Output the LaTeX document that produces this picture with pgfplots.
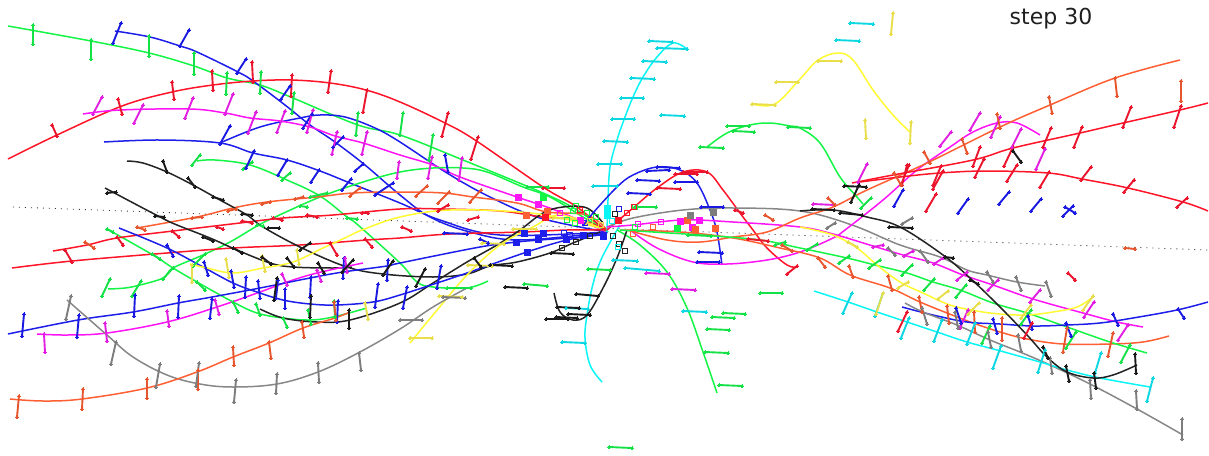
\documentclass[border=0pt]{standalone}
\usepackage{pgfplots}
\pgfplotsset{compat=1.18}
\usepackage{fontspec}
\setmainfont{DejaVu Sans}
\definecolor{cR}{RGB}{255,20,40}
\definecolor{cG}{RGB}{20,245,70}
\definecolor{cB}{RGB}{30,30,235}
\definecolor{cM}{RGB}{255,20,245}
\definecolor{cK}{RGB}{35,35,35}
\definecolor{cA}{RGB}{135,135,135}
\definecolor{cO}{RGB}{255,95,50}
\definecolor{cC}{RGB}{10,245,245}
\definecolor{cY}{RGB}{255,250,50}
\definecolor{tR}{RGB}{235,20,45}
\definecolor{tG}{RGB}{20,225,70}
\definecolor{tB}{RGB}{25,25,225}
\definecolor{tM}{RGB}{225,30,225}
\definecolor{tK}{RGB}{25,25,25}
\definecolor{tA}{RGB}{125,125,125}
\definecolor{tO}{RGB}{230,85,45}
\definecolor{tC}{RGB}{10,215,225}
\definecolor{tY}{RGB}{232,222,75}
\pgfplotsset{
 crv/.style={draw=#1,line width=1.5pt,smooth,tension=0.6,no markers},
 tk/.style={draw=#1,line width=1.9pt,mark=*,mark size=1.5pt,mark options={fill=#1,draw=#1,line width=0pt},unbounded coords=jump},
 sqf/.style={only marks,mark=square*,mark size=3pt,mark options={fill=#1,draw=#1,line width=0.2pt}},
 sqo/.style={only marks,mark=square,mark size=2.6pt,mark options={draw=#1,line width=1.4pt}},
}
\begin{document}
\begin{tikzpicture}
\begin{axis}[scale only axis,width=1209pt,height=455pt,xmin=0,xmax=1209,ymin=0,ymax=455,y dir=reverse,axis line style={draw=none},xtick=\empty,ytick=\empty,clip=true]
% dotted reference line
\addplot[draw=black!80,line width=0.8pt,dash pattern=on 1pt off 5pt] coordinates {(13,207)(1208,250)};
% curves
\addplot[crv=cG] coordinates {(8,26)(91,41)(149,53)(194,66)(227,78)(260,85)(293,98)(358,125)(400,135)(463,160)(543,193)(577,210)(608,232)};
\addplot[crv=cB] coordinates {(115,31)(150,37)(180,46)(197,52)(238,72)(253,81)(285,105)(310,125)(335,142)(365,165)(400,195)(430,217)(470,232)(520,240)(607,232)};
\addplot[crv=cB] coordinates {(104,142)(160,140)(220,143)(253,153)(287,160)(320,171)(350,183)(400,203)(440,220)(500,235)(607,232)};
\addplot[crv=cB] coordinates {(220,143)(260,127)(300,118)(320,115)(345,117)(375,128)(400,142)(447,173)(490,197)(540,218)(607,232)};
\addplot[crv=cR] coordinates {(8,159)(57,135)(122,106)(172,92)(213,85)(253,81)(291,80)(330,83)(366,90)(400,102)(445,123)(475,140)(543,187)(577,207)(607,232)};
\addplot[crv=cM] coordinates {(83,114)(120,110)(190,109)(225,113)(250,118)(280,121)(310,127)(335,136)(363,143)(400,155)(433,165)(460,177)(517,197)(538,204)(560,212)(607,232)};
\addplot[crv=cG] coordinates {(197,161)(215,160)(250,165)(287,180)(320,196)(347,217)(358,225)(400,263)(417,282)(433,287)(467,288)(488,281)};
\addplot[crv=cG] coordinates {(108,289)(125,288)(140,285)(163,278)(173,268)(203,255)(230,242)(257,226)(273,218)(320,197)(363,182)(400,172)(433,168)(463,168)(487,172)(523,187)(550,197)(583,217)(608,232)};
\addplot[crv=cG] coordinates {(107,229)(153,255)(173,268)(197,282)(233,302)(257,313)(283,318)(310,320)(333,317)(367,308)};
\addplot[crv=cO] coordinates {(137,228)(197,217)(233,208)(267,202)(317,197)(353,193)(400,192)(443,193)(473,197)(517,203)(547,212)(587,215)(607,230)};
\addplot[crv=cR] coordinates {(12,268)(72,261)(167,253)(233,248)(300,245)(367,240)(400,238)(450,234)(523,232)(567,230)(607,230)};
\addplot[crv=cR] coordinates {(53,251)(87,245)(117,238)(173,231)(240,223)(283,218)(333,215)(400,209)(443,209)(500,211)(543,217)(580,220)(607,230)};
\addplot[crv=cK] coordinates {(127,161)(143,163)(167,172)(193,185)(220,200)(247,215)(263,227)(302,248)(347,267)(383,274)(433,277)(467,274)(490,266)(517,262)(550,253)(573,243)(600,232)};
\addplot[crv=cK] coordinates {(105,188)(160,217)(177,225)(210,238)(237,250)(270,263)(293,267)(333,268)(352,267)};
\addplot[crv=cK] coordinates {(260,309)(283,318)(317,322)(350,320)(400,303)(433,283)(467,262)(497,245)(520,230)(543,213)(563,207)(587,208)(603,223)};
\addplot[crv=cM] coordinates {(37,334)(67,335)(107,333)(167,322)(217,307)(260,292)(287,282)(317,273)(363,263)};
\addplot[crv=cB] coordinates {(8,334)(78,320)(133,312)(178,303)(212,297)(260,288)(310,278)(343,272)(387,266)(400,263)(480,247)(517,242)(540,240)(567,238)(600,235)(607,232)};
\addplot[crv=cB] coordinates {(119,228)(167,248)(203,267)(233,283)(257,292)(283,300)(310,304)(337,305)(373,302)(400,295)(437,283)(467,273)(527,252)(567,240)(607,233)};
\addplot[crv=cY] coordinates {(190,264)(207,268)(233,273)(263,268)(293,262)(323,248)(347,237)(362,230)(400,217)(450,210)(520,212)(560,218)(600,228)};
\addplot[crv=cY] coordinates {(410,343)(433,315)(467,275)(500,245)(533,227)(560,215)(600,228)};
\addplot[crv=cY] coordinates {(752,104)(775,104)(800,79)(818,60)(838,53)(853,60)(873,90)(893,115)(910,132)};
\addplot[crv=cA] coordinates {(67,300)(107,335)(133,357)(167,375)(200,384)(233,387)(277,384)(318,372)(358,353)(400,329)(433,307)(467,288)};
\addplot[crv=cO] coordinates {(10,399)(43,401)(82,399)(147,388)(197,372)(233,357)(269,343)(303,328)(335,318)(350,312)};
\addplot[crv=cC] coordinates {(602,382)(590,365)(585,338)(587,315)(592,288)(600,262)(613,237)(620,225)};
\addplot[crv=cC] coordinates {(607,232)(608,200)(610,167)(617,140)(625,117)(633,97)(643,77)(657,57)(673,43)(687,49)};
\addplot[crv=cG] coordinates {(717,393)(703,352)(687,308)(667,272)(640,245)(617,230)};
\addplot[crv=cK] coordinates {(554,293)(560,312)(573,320)(587,315)(603,288)(617,258)(627,230)};
\addplot[crv=cB] coordinates {(583,226)(593,213)(617,187)(633,175)(657,167)(680,170)(697,183)(710,210)(717,232)(722,265)};
\addplot[crv=cR] coordinates {(607,230)(633,208)(657,188)(683,172)(707,172)(723,190)(740,213)(753,230)(767,248)(787,265)(797,267)};
\addplot[crv=cA] coordinates {(607,227)(633,218)(683,210)(733,208)(800,211)(852,225)(900,245)(940,257)(967,270)(987,275)(1017,282)(1045,286)};
\addplot[crv=cM] coordinates {(607,227)(633,225)(683,220)(733,222)(800,227)(833,234)(873,246)(903,255)(933,263)(963,275)(993,285)(1033,299)(1083,313)(1117,322)(1143,327)};
\addplot[crv=cM] coordinates {(630,230)(657,248)(693,262)(727,264)(767,260)(800,252)(833,238)(845,230)(883,200)(917,170)(950,147)(973,132)(997,123)(1017,123)(1040,135)};
\addplot[crv=cO] coordinates {(627,230)(667,240)(700,242)(733,237)(767,232)(800,218)(833,207)(867,190)(927,163)(1000,127)(1050,105)(1115,78)(1180,60)};
\addplot[crv=cR] coordinates {(852,183)(893,175)(973,160)(1013,148)(1080,133)(1123,123)(1180,110)(1208,103)};
\addplot[crv=cR] coordinates {(860,182)(900,177)(940,173)(987,171)(1048,173)(1082,179)(1128,188)(1183,202)(1208,211)};
\addplot[crv=cG] coordinates {(707,147)(727,133)(750,125)(770,123)(790,126)(800,128)(820,143)(840,177)(857,197)(863,204)};
\addplot[crv=cO] coordinates {(620,230)(680,232)(733,238)(780,248)(820,258)(850,275)(890,288)(920,302)(947,313)(973,323)(1000,332)(1027,339)(1063,344)(1110,344)(1143,342)(1169,336)};
\addplot[crv=cG] coordinates {(620,230)(700,235)(760,240)(800,248)(847,258)(875,265)(907,273)(933,282)(960,290)(993,303)(1027,313)(1067,327)(1110,342)(1147,353)};
\addplot[crv=cY] coordinates {(800,227)(833,235)(857,248)(877,265)(900,282)(923,293)(950,305)(977,311)(1000,314)(1027,315)(1053,312)(1077,307)(1093,297)};
\addplot[crv=cB] coordinates {(902,307)(933,315)(967,322)(1000,324)(1033,326)(1067,325)(1100,323)(1133,318)(1177,310)(1208,302)};
\addplot[crv=cA] coordinates {(905,303)(923,312)(957,325)(990,340)(1020,352)(1050,365)(1090,384)(1137,409)(1183,435)};
\addplot[crv=cC] coordinates {(814,291)(848,302)(877,312)(907,322)(937,332)(967,342)(997,350)(1040,362)(1067,370)(1100,378)(1150,387)};
\addplot[crv=cK] coordinates {(800,211)(833,210)(867,217)(900,227)(943,255)(970,278)(1000,307)(1027,335)(1047,357)(1067,372)(1093,378)(1113,375)(1137,365)};
% ticks: green
\addplot[tk=tG] coordinates {(33,25)(33,44)(nan,nan)(91,40)(91,59)(nan,nan)(149,36)(149,56)(nan,nan)(194,53)(194,74)(nan,nan)(227,73)(226,94)(nan,nan)(261,72)(260,93)(nan,nan)(294,93)(292,113)(nan,nan)(358,113)(356,135)(nan,nan)(403,113)(400,135)(nan,nan)(433,135)(429,160)(nan,nan)
(200,155)(192,165)(nan,nan)(252,162)(243,169)(nan,nan)(290,173)(282,180)(nan,nan)(310,197)(327,193)(nan,nan)(300,206)(307,207)(nan,nan)(347,218)(357,219)(nan,nan)
(110,279)(102,296)(nan,nan)(141,281)(132,296)(nan,nan)(173,268)(163,279)(nan,nan)(205,254)(193,266)(nan,nan)(257,225)(263,226)(nan,nan)
(107,229)(113,232)(nan,nan)(152,254)(160,259)(nan,nan)(197,282)(205,290)(nan,nan)(233,302)(238,312)(nan,nan)(256,304)(260,315)(nan,nan)(283,318)(287,327)(nan,nan)(308,310)(311,324)(nan,nan)(335,317)(334,301)(nan,nan)
(527,187)(548,187)(nan,nan)(635,207)(656,207)(nan,nan)(727,126)(749,126)(nan,nan)(733,131)(754,132)(nan,nan)(700,147)(723,148)(nan,nan)(788,127)(810,128)(nan,nan)
(588,269)(610,270)(nan,nan)(524,284)(547,286)(nan,nan)(760,293)(782,293)(nan,nan)(723,313)(745,314)(nan,nan)(712,317)(734,318)(nan,nan)(707,329)(729,330)(nan,nan)(705,352)(728,353)(nan,nan)(719,385)(742,386)(nan,nan)(609,447)(632,448)(nan,nan)(688,235)(711,236)(nan,nan)(447,288)(471,288)(nan,nan)(775,245)(785,242)(nan,nan)
(817,244)(807,250)(nan,nan)(849,256)(839,263)(nan,nan)(880,260)(869,268)(nan,nan)(912,265)(902,275)(nan,nan)(934,279)(924,290)(nan,nan)(966,285)(956,297)(nan,nan)(990,326)(982,343)(nan,nan)(1031,310)(1021,324)(nan,nan)(1076,332)(1066,348)(nan,nan)(1130,345)(1121,362)(nan,nan)(871,198)(861,208)};
% ticks: blue
\addplot[tk=tB] coordinates {(121,23)(113,43)(nan,nan)(189,30)(180,46)(nan,nan)(246,59)(237,73)(nan,nan)(290,86)(281,99)(nan,nan)(230,126)(220,144)(nan,nan)(312,114)(303,128)(nan,nan)(343,137)(333,147)(nan,nan)(363,164)(355,171)(nan,nan)(254,151)(246,168)(nan,nan)(287,160)(278,175)(nan,nan)(319,170)(311,182)(nan,nan)(351,179)(342,190)(nan,nan)(393,183)(375,195)(nan,nan)(445,155)(448,172)(nan,nan)
(167,245)(173,256)(nan,nan)(204,262)(208,275)(nan,nan)(231,271)(234,287)(nan,nan)(246,277)(245,297)(nan,nan)(258,281)(260,298)(nan,nan)(285,289)(285,308)(nan,nan)
(24,314)(22,336)(nan,nan)(79,315)(77,337)(nan,nan)(135,295)(134,316)(nan,nan)(179,296)(178,317)(nan,nan)(212,299)(210,318)(nan,nan)(278,280)(276,298)(nan,nan)(311,277)(310,297)(nan,nan)(344,258)(343,278)(nan,nan)(388,260)(387,280)(nan,nan)(338,301)(337,322)(nan,nan)(378,284)(375,307)(nan,nan)(407,287)(403,308)(nan,nan)(441,266)(437,288)(nan,nan)
(444,233)(467,234)(nan,nan)(480,239)(488,243)(nan,nan)
(903,190)(894,206)(nan,nan)(968,199)(958,213)(nan,nan)(1009,192)(999,204)(nan,nan)(1041,199)(1031,211)(nan,nan)(1073,206)(1063,216)(nan,nan)(1065,207)(1075,213)(nan,nan)
(956,308)(961,323)(nan,nan)(993,319)(997,333)(nan,nan)(1028,316)(1032,329)(nan,nan)(1066,323)(1071,336)(nan,nan)(1113,314)(1118,325)(nan,nan)(1178,309)(1184,318)(nan,nan)
(657,167)(679,168)(nan,nan)(647,171)(669,170)(nan,nan)(637,180)(659,181)(nan,nan)(675,182)(697,182)(nan,nan)(628,193)(650,194)(nan,nan)(701,207)(723,207)(nan,nan)(699,252)(722,253)(nan,nan)(697,262)(719,262)};
% ticks: red
\addplot[tk=tR] coordinates {(52,125)(57,136)(nan,nan)(118,99)(122,114)(nan,nan)(172,82)(174,99)(nan,nan)(212,71)(213,90)(nan,nan)(252,62)(253,82)(nan,nan)(292,75)(291,96)(nan,nan)(331,71)(328,92)(nan,nan)(367,90)(363,112)(nan,nan)(448,113)(442,136)(nan,nan)(478,137)(471,159)(nan,nan)
(448,205)(438,211)(nan,nan)(478,217)(468,220)(nan,nan)(362,213)(368,213)(nan,nan)(307,215)(317,217)(nan,nan)(273,218)(282,220)(nan,nan)(242,221)(252,223)(nan,nan)(217,227)(223,229)(nan,nan)(117,237)(123,245)(nan,nan)(172,231)(179,237)(nan,nan)(65,250)(72,262)(nan,nan)(330,243)(337,255)(nan,nan)(365,239)(372,247)(nan,nan)(402,227)(411,231)(nan,nan)
(543,188)(564,188)(nan,nan)(657,188)(680,189)(nan,nan)(683,172)(707,172)(nan,nan)(675,174)(697,174)(nan,nan)(735,210)(743,213)(nan,nan)(748,239)(768,241)(nan,nan)
(1181,106)(1174,127)(nan,nan)(1131,107)(1123,127)(nan,nan)(1082,127)(1074,147)(nan,nan)(1051,128)(1043,147)(nan,nan)(1013,147)(1004,166)(nan,nan)(980,147)(973,166)(nan,nan)(941,166)(933,185)(nan,nan)(909,165)(901,185)(nan,nan)
(1187,198)(1177,207)(nan,nan)(1134,180)(1124,192)(nan,nan)(1091,167)(1081,180)(nan,nan)(1049,172)(1040,187)(nan,nan)(1017,165)(1007,181)(nan,nan)(984,159)(975,177)(nan,nan)(943,171)(933,189)(nan,nan)(936,194)(926,211)(nan,nan)(907,165)(902,185)(nan,nan)
(907,312)(898,331)(nan,nan)(1032,323)(1024,338)(nan,nan)(1068,273)(1075,280)(nan,nan)(797,266)(787,274)};
% ticks: magenta
\addplot[tk=tM] coordinates {(102,97)(93,114)(nan,nan)(143,105)(134,123)(nan,nan)(193,98)(185,118)(nan,nan)(233,94)(225,114)(nan,nan)(256,112)(248,133)(nan,nan)(285,111)(277,132)(nan,nan)(313,110)(307,132)(nan,nan)(337,132)(332,154)(nan,nan)(367,132)(362,154)(nan,nan)(399,162)(397,178)(nan,nan)(432,157)(428,178)(nan,nan)(462,158)(459,180)(nan,nan)
(44,334)(45,352)(nan,nan)(105,323)(107,341)(nan,nan)(167,311)(169,326)(nan,nan)(215,300)(219,314)(nan,nan)(282,274)(287,285)(nan,nan)(317,270)(321,281)(nan,nan)(345,258)(347,272)(nan,nan)
(867,164)(858,182)(nan,nan)(951,132)(940,146)(nan,nan)(980,113)(970,130)(nan,nan)(1000,117)(991,137)(nan,nan)(1021,129)(1012,147)(nan,nan)(1045,149)(1036,169)(nan,nan)(813,204)(835,205)(nan,nan)
(913,251)(904,256)(nan,nan)(883,245)(873,247)(nan,nan)(943,258)(934,264)(nan,nan)(967,272)(957,280)(nan,nan)(998,280)(988,290)(nan,nan)(1040,290)(1030,302)(nan,nan)(1094,302)(1084,317)(nan,nan)(1128,325)(1118,340)(nan,nan)(968,310)(960,328)(nan,nan)
(646,273)(669,274)(nan,nan)(672,289)(695,290)};
% ticks: orange
\addplot[tk=tO] coordinates {(360,188)(350,196)(nan,nan)(427,186)(416,196)(nan,nan)(449,192)(438,203)(nan,nan)(481,190)(470,202)(nan,nan)(303,197)(295,199)(nan,nan)(270,202)(262,204)(nan,nan)(202,217)(192,218)(nan,nan)(137,227)(145,230)(nan,nan)(236,209)(228,211)(nan,nan)(85,242)(94,248)(nan,nan)
(19,396)(17,417)(nan,nan)(83,389)(82,409)(nan,nan)(147,379)(147,398)(nan,nan)(198,370)(198,389)(nan,nan)(233,347)(234,365)(nan,nan)(269,342)(271,358)(nan,nan)(302,322)(304,337)(nan,nan)(334,302)(336,320)(nan,nan)
(1181,81)(1181,101)(nan,nan)(1115,78)(1117,96)(nan,nan)(1049,97)(1052,113)(nan,nan)(997,114)(1000,128)(nan,nan)(962,139)(967,153)(nan,nan)(924,152)(930,163)(nan,nan)(894,173)(901,185)(nan,nan)(828,198)(835,205)(nan,nan)
(818,258)(825,267)(nan,nan)(849,266)(853,277)(nan,nan)(888,276)(892,290)(nan,nan)(919,297)(922,312)(nan,nan)(947,306)(949,323)(nan,nan)(974,312)(975,332)(nan,nan)(1002,318)(1002,340)(nan,nan)(1067,328)(1063,352)(nan,nan)(1113,333)(1108,356)(nan,nan)(1125,248)(1135,249)(nan,nan)(765,215)(773,220)(nan,nan)(782,245)(792,251)};
% ticks: cyan
\addplot[tk=tC] coordinates {(649,41)(672,42)(nan,nan)(657,48)(687,49)(nan,nan)(643,61)(666,62)(nan,nan)(631,78)(654,79)(nan,nan)(621,98)(643,98)(nan,nan)(612,119)(634,119)(nan,nan)(604,141)(627,142)(nan,nan)(598,164)(621,164)(nan,nan)(593,186)(617,186)(nan,nan)(661,115)(684,116)(nan,nan)(850,23)(873,24)(nan,nan)(836,40)(859,41)(nan,nan)
(613,260)(637,261)(nan,nan)(625,268)(659,271)(nan,nan)(562,342)(585,343)(nan,nan)(683,311)(706,312)(nan,nan)(566,308)(588,309)(nan,nan)
(852,293)(843,313)(nan,nan)(883,293)(875,316)(nan,nan)(909,318)(901,338)(nan,nan)(942,320)(934,341)(nan,nan)(975,323)(967,344)(nan,nan)(1001,346)(993,368)(nan,nan)(1045,350)(1038,372)(nan,nan)(1101,353)(1095,373)(nan,nan)(1153,378)(1147,401)};
% ticks: yellow
\addplot[tk=tY] coordinates {(192,265)(192,282)(nan,nan)(226,259)(229,277)(nan,nan)(262,256)(265,271)(nan,nan)(297,250)(299,264)(nan,nan)(365,303)(368,319)(nan,nan)(513,229)(536,229)(nan,nan)(439,296)(462,297)(nan,nan)(410,338)(432,338)(nan,nan)(482,243)(504,244)(nan,nan)(468,265)(492,266)(nan,nan)(752,104)(775,105)(nan,nan)(776,82)(798,82)(nan,nan)(818,61)(841,61)(nan,nan)(865,120)(866,138)(nan,nan)(911,122)(910,143)(nan,nan)(893,13)(891,34)(nan,nan)(848,242)(857,247)(nan,nan)(908,282)(898,288)(nan,nan)(948,291)(938,299)(nan,nan)(979,303)(968,314)(nan,nan)(1031,305)(1021,318)(nan,nan)(1093,296)(1083,310)(nan,nan)(883,293)(876,314)(nan,nan)(553,218)(575,219)};
% ticks: gray
\addplot[tk=tA] coordinates {(71,296)(66,319)(nan,nan)(116,342)(111,364)(nan,nan)(160,364)(156,387)(nan,nan)(199,363)(196,386)(nan,nan)(236,380)(234,402)(nan,nan)(277,374)(276,393)(nan,nan)(318,363)(319,382)(nan,nan)(359,353)(361,370)(nan,nan)(400,320)(422,320)(nan,nan)(443,297)(465,298)(nan,nan)
(888,248)(895,255)(nan,nan)(920,251)(928,262)(nan,nan)(987,272)(993,282)(nan,nan)(1016,277)(1021,290)(nan,nan)(1046,282)(1051,296)(nan,nan)(922,308)(927,324)(nan,nan)(955,312)(958,328)(nan,nan)(988,332)(991,347)(nan,nan)(1018,335)(1021,351)(nan,nan)(1050,358)(1052,373)(nan,nan)(1090,380)(1091,398)(nan,nan)(1136,391)(1137,409)(nan,nan)(1182,419)(1182,439)(nan,nan)(912,218)(902,224)(nan,nan)(835,223)(827,228)};
% ticks: black
\addplot[tk=tK] coordinates {(163,161)(167,172)(nan,nan)(188,178)(195,187)(nan,nan)(213,197)(223,200)(nan,nan)(242,214)(252,215)(nan,nan)(268,228)(279,228)(nan,nan)(107,193)(116,192)(nan,nan)(155,216)(164,217)(nan,nan)(203,237)(213,241)(nan,nan)(233,248)(242,253)(nan,nan)(310,243)(300,250)(nan,nan)(353,260)(342,272)(nan,nan)(262,257)(271,264)(nan,nan)(287,258)(294,267)(nan,nan)(318,263)(324,273)(nan,nan)(393,261)(383,275)(nan,nan)(277,278)(274,300)(nan,nan)(311,296)(310,317)(nan,nan)(349,310)(349,328)(nan,nan)
(425,269)(416,286)(nan,nan)(474,258)(481,267)(nan,nan)(490,265)(512,266)(nan,nan)(505,287)(527,288)(nan,nan)(551,253)(573,254)(nan,nan)(576,294)(598,296)(nan,nan)(557,307)(579,308)(nan,nan)(568,314)(590,315)(nan,nan)(546,319)(568,319)(nan,nan)(556,317)(577,318)(nan,nan)
(844,186)(866,187)(nan,nan)(859,185)(851,202)(nan,nan)(1013,151)(1021,162)(nan,nan)(812,209)(834,210)(nan,nan)(840,213)(862,215)(nan,nan)(889,227)(912,228)(nan,nan)(945,257)(953,258)(nan,nan)(970,280)(978,284)(nan,nan)(1043,347)(1048,358)(nan,nan)(1066,366)(1069,381)(nan,nan)(1094,373)(1096,388)(nan,nan)(1135,354)(1136,373)};
% squares
\addplot[sqf=cB] coordinates {(524,233)(543,233)(516,242)(538,239)(566,239)(527,252)(583,235)(603,236)};
\addplot[sqo=cB] coordinates {(564,233)(570,235)(619,209)(585,223)(613,236)};
\addplot[sqf=cM] coordinates {(518,197)(538,204)(580,220)(680,221)(699,220)(692,227)};
\addplot[sqo=cM] coordinates {(560,213)(638,224)(661,222)(653,227)};
\addplot[sqf=cG] coordinates {(543,197)(677,228)};
\addplot[sqo=cG] coordinates {(576,206)(573,211)(587,213)(567,220)(575,223)(596,217)(635,207)(635,227)};
\addplot[sqf=cO] coordinates {(526,215)(547,211)(687,220)(695,229)(715,228)};
\addplot[sqo=cO] coordinates {(633,234)(653,227)};
\addplot[sqf=cR] coordinates {(545,217)(618,220)};
\addplot[sqo=cR] coordinates {(627,213)(634,207)(580,210)};
\addplot[sqf=tA] coordinates {(690,215)(713,212)};
\addplot[sqo=cK] coordinates {(615,214)(562,248)(576,242)(590,236)(613,236)(619,244)(625,251)};
\addplot[sqf=cC] coordinates {(607,208)(607,215)};
\addplot[sqo=cC] coordinates {(612,221)(618,247)};
\addplot[sqo=tY] coordinates {(590,221)(601,225)};
\node[anchor=center,font=\fontsize{22}{26}\selectfont,text=black!88] at (axis cs:1051,18.5) {step 30};
\end{axis}
\end{tikzpicture}
\end{document}
